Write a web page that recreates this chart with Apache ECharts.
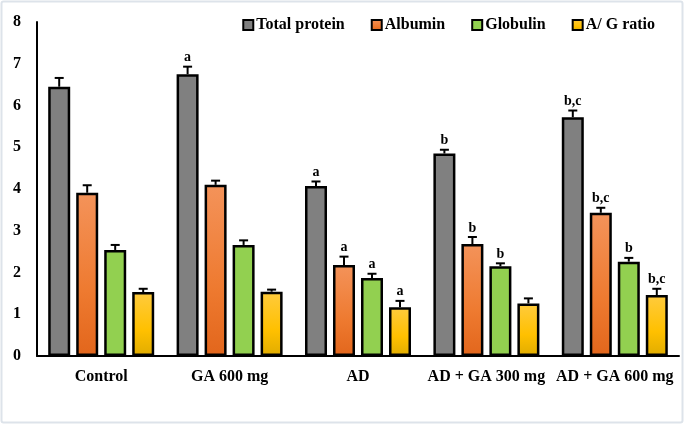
<!DOCTYPE html>
<html>
<head>
<meta charset="utf-8">
<script src="https://cdn.jsdelivr.net/npm/echarts@6/dist/echarts.min.js"></script>
<style>
html,body{margin:0;padding:0;background:#fff;}
#c{width:685px;height:426px;}
</style>
</head>
<body>
<div id="c"></div>
<script>
const categories = ['Control', 'GA 600 mg', 'AD', 'AD + GA 300 mg', 'AD + GA 600 mg'];
const seriesNames = ['Total protein', 'Albumin', 'Globulin', 'A/ G ratio'];
const totalProtein = [6.45, 6.75, 4.07, 4.85, 5.72];
const albumin = [3.91, 4.10, 2.18, 2.68, 3.43];
const globulin = [2.54, 2.66, 1.87, 2.15, 2.26];
const agRatio = [1.53, 1.54, 1.17, 1.26, 1.46];
const totalProteinErr = [0.21, 0.18, 0.11, 0.09, 0.16];
const albuminErr = [0.18, 0.10, 0.20, 0.17, 0.12];
const globulinErr = [0.12, 0.11, 0.10, 0.07, 0.09];
const agRatioErr = [0.08, 0.05, 0.15, 0.12, 0.15];
const totalProteinSig = ['', 'a', 'a', 'b', 'b,c'];
const albuminSig = ['', '', 'a', 'b', 'b,c'];
const globulinSig = ['', '', 'a', 'b', 'b'];
const agRatioSig = ['', '', 'a', '', 'b,c'];
const yTicks = [0, 1, 2, 3, 4, 5, 6, 7, 8];

const values = [totalProtein, albumin, globulin, agRatio];
const errs = [totalProteinErr, albuminErr, globulinErr, agRatioErr];
const sigs = [totalProteinSig, albuminSig, globulinSig, agRatioSig];

const FONT = '"Liberation Serif", "Times New Roman", serif';
const BAR_W = 22, BAR_GAP = 6;

const grad = (c0, c1, c2) => new echarts.graphic.LinearGradient(0, 0, 0, 1, [
  {offset: 0, color: c0}, {offset: 0.6, color: c1}, {offset: 1, color: c2}
]);
const fills = [
  '#808080',
  grad('#F4935A', '#EE7A30', '#E2661C'),
  '#92D050',
  grad('#FFCB3E', '#FFC000', '#E0AC00')
];

const chart = echarts.init(document.getElementById('c'), null, {renderer: 'canvas'});

const barSeries = seriesNames.map((n, i) => ({
  name: n,
  type: 'bar',
  data: values[i],
  barWidth: BAR_W,
  barGap: (BAR_GAP / BAR_W * 100) + '%',
  itemStyle: {color: fills[i], borderColor: '#000', borderWidth: 2.5},
  emphasis: {disabled: true},
  z: 2
}));

const errSeries = seriesNames.map((n, si) => ({
  name: 'err_' + si,
  type: 'custom',
  z: 5,
  silent: true,
  data: categories.map((c, k) => [k, values[si][k], errs[si][k]]),
  encode: {x: 0, y: 1},
  renderItem: function (params, api) {
    const k = api.value(0), v = api.value(1), e = api.value(2);
    const offset = (si - 1.5) * (BAR_W + BAR_GAP);
    const p = api.coord([k, v]);
    const t = api.coord([k, v + e]);
    const x = p[0] + offset;
    const lab = sigs[si][params.dataIndex];
    const children = [
      {type: 'line', shape: {x1: x, y1: p[1], x2: x, y2: t[1]}, style: {stroke: '#000', lineWidth: 2}},
      {type: 'line', shape: {x1: x - 4.5, y1: t[1], x2: x + 4.5, y2: t[1]}, style: {stroke: '#000', lineWidth: 2}}
    ];
    if (lab) {
      children.push({
        type: 'text',
        style: {
          text: lab, x: x, y: t[1] - 2,
          align: 'center', verticalAlign: 'bottom',
          font: 'bold 14px ' + FONT, fill: '#000'
        }
      });
    }
    return {type: 'group', children: children};
  }
}));

chart.setOption({
  animation: false,
  backgroundColor: '#fff',
  graphic: [{
    type: 'rect',
    shape: {x: 1.5, y: 1.5, width: 681, height: 421, r: 2},
    style: {fill: 'none', stroke: '#dde3ea', lineWidth: 2},
    silent: true
  }],
  legend: {
    data: seriesNames,
    top: 12,
    right: 25,
    itemWidth: 10,
    itemHeight: 10,
    itemGap: 26,
    icon: 'rect',
    textStyle: {fontFamily: FONT, fontWeight: 'bold', fontSize: 16, color: '#000', padding: [0, 0, 0, -2]}
  },
  grid: {left: 37, right: 6, top: 22, bottom: 70, containLabel: false},
  xAxis: {
    type: 'category',
    data: categories,
    axisLine: {lineStyle: {color: '#000', width: 2}},
    axisTick: {show: false},
    axisLabel: {interval: 0, fontFamily: FONT, fontWeight: 'bold', fontSize: 16, color: '#000', margin: 13}
  },
  yAxis: {
    type: 'value',
    min: yTicks[0],
    max: yTicks[yTicks.length - 1],
    interval: 1,
    axisLine: {show: true, lineStyle: {color: '#000', width: 2}},
    axisTick: {show: false},
    splitLine: {show: false},
    axisLabel: {fontFamily: FONT, fontWeight: 'bold', fontSize: 16, color: '#000', margin: 16}
  },
  series: barSeries.concat(errSeries)
});
</script>
</body>
</html>
